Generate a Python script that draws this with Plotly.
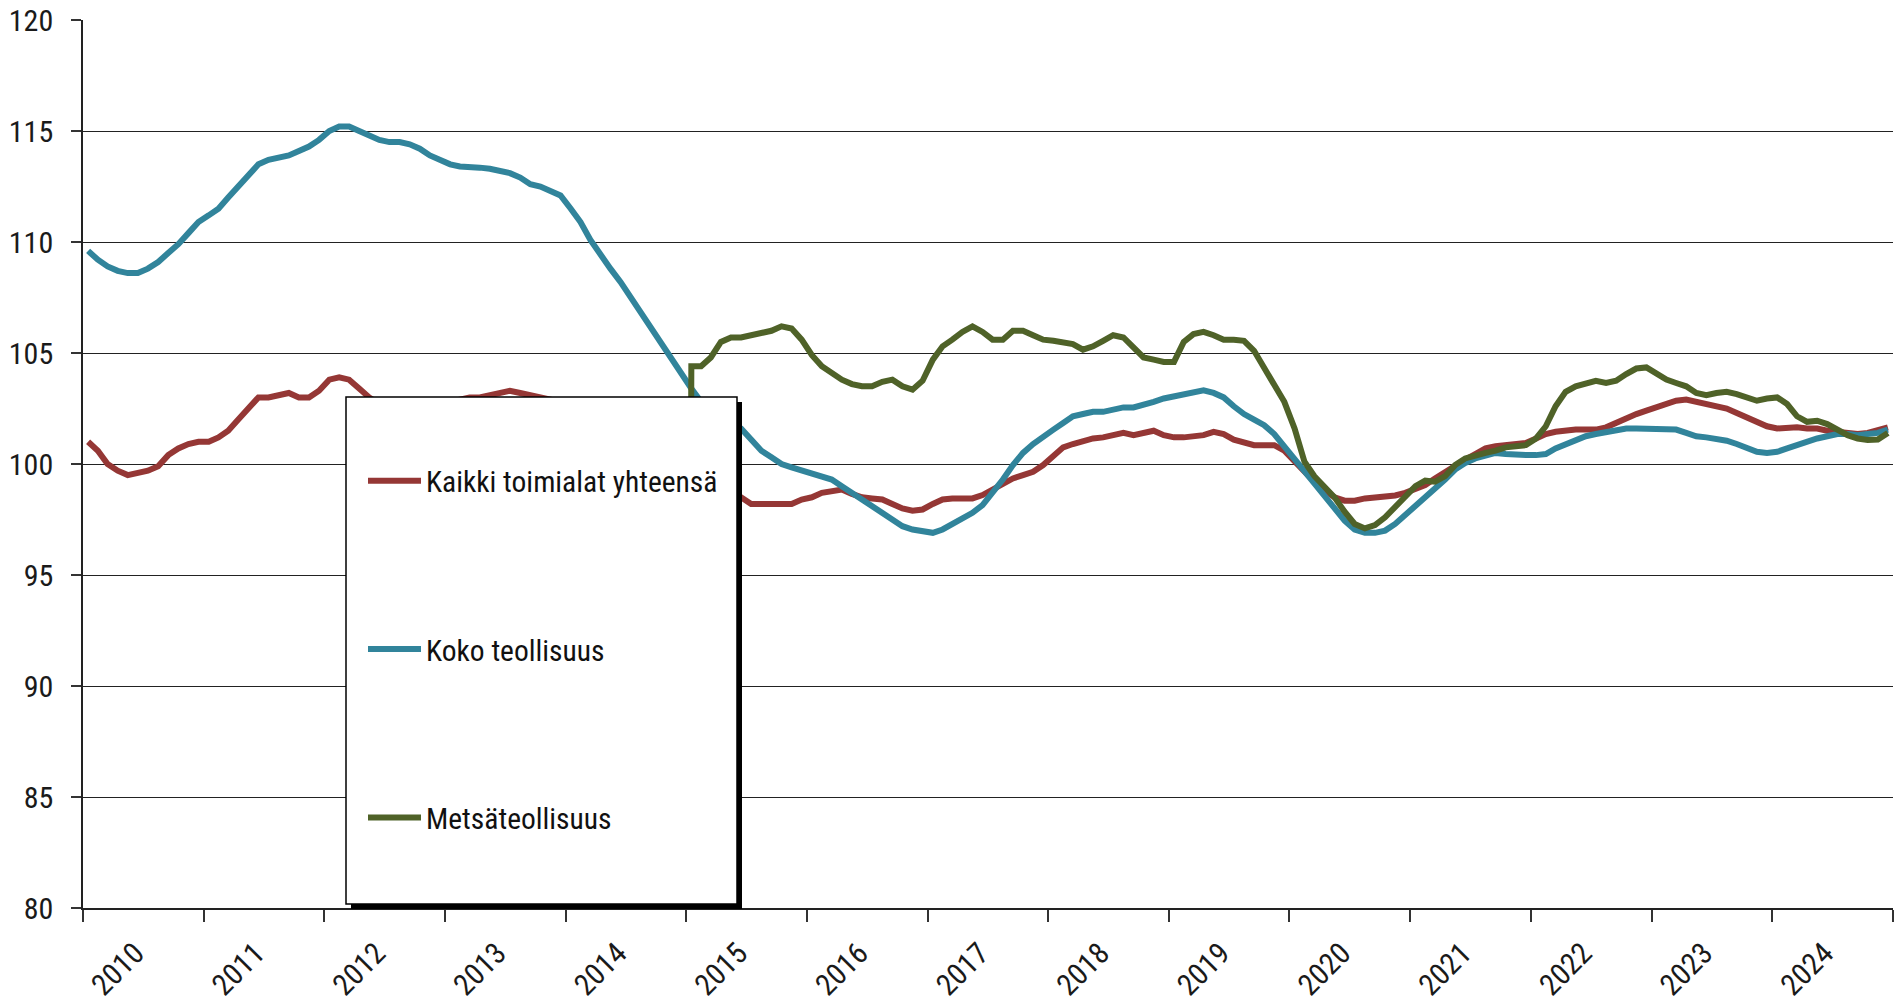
import plotly.graph_objects as go

# ---- data (monthly, Jan 2010 .. Dec 2024) ----
months = [f"{y}-{m:02d}" for y in range(2010, 2025) for m in range(1, 13)]

kaikki = [
    # 2010
    101.0, 100.6, 100.0, 99.7, 99.5, 99.6, 99.7, 99.9, 100.4, 100.7, 100.9, 101.0,
    # 2011
    101.0, 101.2, 101.5, 102.0, 102.5, 103.0, 103.0, 103.1, 103.2, 103.0, 103.0, 103.3,
    # 2012
    103.8, 103.9, 103.8, 103.4, 103.0, 102.7, 102.5, 102.4, 102.4, 102.5, 102.6, 102.7,
    # 2013
    102.8, 102.9, 103.0, 103.0, 103.1, 103.2, 103.3, 103.2, 103.1, 103.0, 102.9, 102.8,
    # 2014
    102.6, 102.4, 102.2, 102.0, 101.7, 101.4, 101.1, 100.8, 100.5, 100.2, 99.9, 99.6,
    # 2015
    99.4, 99.2, 99.0, 98.8, 98.6, 98.5, 98.2, 98.2, 98.2, 98.2, 98.2, 98.4,
    # 2016
    98.5, 98.7, 98.75, 98.85, 98.65, 98.5, 98.45, 98.4, 98.2, 98.0, 97.9, 97.95,
    # 2017
    98.2, 98.4, 98.45, 98.45, 98.45, 98.6, 98.85, 99.15, 99.35, 99.5, 99.65, 99.95,
    # 2018
    100.35, 100.75, 100.9, 101.05, 101.15, 101.2, 101.3, 101.4, 101.3, 101.4, 101.5, 101.3,
    # 2019
    101.2, 101.2, 101.25, 101.3, 101.45, 101.35, 101.1, 100.95, 100.85, 100.85, 100.85, 100.6,
    # 2020
    100.1, 99.7, 99.2, 98.8, 98.5, 98.35, 98.35, 98.45, 98.5, 98.55, 98.58, 98.7,
    # 2021
    98.85, 99.05, 99.35, 99.65, 99.9, 100.2, 100.45, 100.7, 100.8, 100.85, 100.9, 100.95,
    # 2022
    101.15, 101.35, 101.45, 101.53, 101.55, 101.55, 101.55, 101.65, 101.85, 102.1, 102.25, 102.4,
    # 2023
    102.55, 102.7, 102.85, 102.9, 102.8, 102.7, 102.6, 102.5, 102.3, 102.1, 101.9, 101.7,
    # 2024
    101.6, 101.65, 101.65, 101.6, 101.6, 101.5, 101.45, 101.4, 101.35, 101.4, 101.5, 101.65,
]

koko = [
    # 2010
    109.6, 109.2, 108.9, 108.7, 108.6, 108.6, 108.8, 109.1, 109.5, 109.9, 110.4, 110.9,
    # 2011
    111.2, 111.5, 112.0, 112.5, 113.0, 113.5, 113.7, 113.8, 113.9, 114.1, 114.3, 114.6,
    # 2012
    115.0, 115.2, 115.2, 115.0, 114.8, 114.6, 114.5, 114.5, 114.4, 114.2, 113.9, 113.7,
    # 2013
    113.5, 113.4, 113.4, 113.35, 113.3, 113.2, 113.1, 112.9, 112.6, 112.5, 112.3, 112.1,
    # 2014
    111.5, 110.9, 110.1, 109.4, 108.8, 108.2, 107.5, 106.8, 106.1, 105.4, 104.8, 104.0,
    # 2015
    103.4, 102.8, 102.5, 102.2, 101.9, 101.6, 101.1, 100.6, 100.3, 100.0, 99.85, 99.7,
    # 2016
    99.55, 99.4, 99.3, 99.0, 98.7, 98.4, 98.1, 97.8, 97.45, 97.2, 97.05, 96.95,
    # 2017
    96.9, 97.05, 97.3, 97.55, 97.8, 98.15, 98.7, 99.3, 99.95, 100.5, 100.9, 101.25,
    # 2018
    101.55, 101.85, 102.15, 102.25, 102.35, 102.35, 102.45, 102.55, 102.55, 102.65, 102.8, 102.95,
    # 2019
    103.05, 103.15, 103.25, 103.32, 103.2, 103.0, 102.6, 102.25, 102.0, 101.75, 101.35, 100.8,
    # 2020
    100.25, 99.65, 99.1, 98.55, 98.0, 97.45, 97.05, 96.9, 96.9, 97.0, 97.3, 97.7,
    # 2021
    98.05, 98.45, 98.85, 99.3, 99.75, 100.05, 100.25, 100.4, 100.5, 100.45, 100.4, 100.4,
    # 2022
    100.4, 100.45, 100.7, 100.9, 101.1, 101.25, 101.35, 101.45, 101.55, 101.6, 101.6, 101.6,
    # 2023
    101.6, 101.6, 101.55, 101.4, 101.25, 101.2, 101.15, 101.05, 100.9, 100.75, 100.55, 100.5,
    # 2024
    100.55, 100.7, 100.85, 101.05, 101.15, 101.25, 101.35, 101.35, 101.3, 101.35, 101.4, 101.55,
]

# Metsäteollisuus: no values before 2015 (the last empty month is recorded as 0)
metsa = [None] * 59 + [0.0] + [
    # 2015
    104.4, 104.4, 104.8, 105.5, 105.7, 105.7, 105.8, 105.9, 106.0, 106.2, 106.1, 105.6,
    # 2016
    104.9, 104.4, 104.1, 103.8, 103.6, 103.5, 103.5, 103.7, 103.8, 103.5, 103.35, 103.75,
    # 2017
    104.7, 105.3, 105.6, 105.95, 106.2, 105.95, 105.6, 105.6, 106.0, 106.0, 105.8, 105.6,
    # 2018
    105.55, 105.5, 105.4, 105.15, 105.3, 105.55, 105.8, 105.7, 105.2, 104.8, 104.7, 104.6,
    # 2019
    104.6, 105.5, 105.85, 105.95, 105.8, 105.6, 105.6, 105.55, 105.1, 104.35, 103.6, 102.8,
    # 2020
    101.6, 100.1, 99.45, 99.0, 98.5, 97.85, 97.3, 97.1, 97.25, 97.6, 98.05, 98.55,
    # 2021
    99.0, 99.25, 99.2, 99.45, 99.95, 100.25, 100.4, 100.5, 100.6, 100.75, 100.8, 100.85,
    # 2022
    101.15, 101.7, 102.6, 103.25, 103.5, 103.65, 103.75, 103.65, 103.75, 104.05, 104.3, 104.35,
    # 2023
    104.1, 103.8, 103.65, 103.5, 103.2, 103.1, 103.2, 103.25, 103.15, 103.0, 102.85, 102.95,
    # 2024
    103.0, 102.7, 102.15, 101.9, 101.95, 101.8, 101.55, 101.3, 101.15, 101.08, 101.1, 101.4,
]

series_names = ["Kaikki toimialat yhteensä", "Koko teollisuus", "Metsäteollisuus"]
series_values = [kaikki, koko, metsa]
series_colors = ["#953735", "#31849B", "#4F6228"]

y_ticks = [80, 85, 90, 95, 100, 105, 110, 115, 120]

# ---- layout constants (pixels) ----
W, H = 1903, 1007
OFF = 8                      # page body margin: figure drawn 8px right/down on screen
# desired plot area on screen: left 83, right 1893, top 20, bottom 908
ML, MT = 83 - OFF, 20 - OFF
MR = W - (1893 - OFF)
MB = H - (908 - OFF)
PW, PH = W - ML - MR, H - MT - MB
FONT = "Roboto Condensed, Liberation Sans Narrow, Arial Narrow, sans-serif"


def px_x(p):  # screen px -> paper
    return (p - OFF - ML) / PW


def px_y(p):
    return (H - MB - (p - OFF)) / PH


fig = go.Figure()
for name, vals, col in zip(series_names, series_values, series_colors):
    fig.add_trace(go.Scatter(
        x=months, y=vals, name=name, mode="lines",
        xperiod="M1", xperiodalignment="middle",
        line=dict(color=col, width=6), legendgroup=name,
        connectgaps=False,
    ))

# legend frame with drop shadow
box = dict(x0=346, x1=737, y0=397, y1=904)
shadow_off = 5
fig.add_shape(type="rect", xref="paper", yref="paper", layer="above",
              x0=px_x(box["x0"] + shadow_off), x1=px_x(box["x1"] + shadow_off),
              y0=px_y(box["y1"] + shadow_off), y1=px_y(box["y0"] + shadow_off),
              fillcolor="black", line=dict(width=0))
fig.add_shape(type="rect", xref="paper", yref="paper", layer="above",
              x0=px_x(box["x0"]), x1=px_x(box["x1"]),
              y0=px_y(box["y1"]), y1=px_y(box["y0"]),
              fillcolor="white", line=dict(color="black", width=1.5))

fig.update_layout(
    template="none",
    width=W, height=H,
    margin=dict(l=ML, r=MR, t=MT, b=MB, autoexpand=False),
    paper_bgcolor="white", plot_bgcolor="white",
    font=dict(family=FONT, size=30, color="#1a1a1a"),
    showlegend=True,
    legend=dict(
        x=px_x(363), y=px_y(455), xanchor="left", yanchor="top",
        bgcolor="rgba(0,0,0,0)", borderwidth=0,
        font=dict(family=FONT, size=29.5, color="#111111"),
        itemwidth=53, tracegroupgap=127, traceorder="grouped",
    ),
    xaxis=dict(
        type="date", automargin=False,
        range=["2010-01-01", "2025-01-01"],
        dtick="M12", tick0="2010-01-01",
        ticklabelmode="period", tickformat="%Y", tickangle=-45,
        ticklabelshift=-8, ticklabelstandoff=2,
        ticklabeloverflow="allow",
        ticks="outside", ticklen=12, tickwidth=1.5, tickcolor="#333333",
        showline=True, linecolor="#222222", linewidth=1.5,
        showgrid=False, zeroline=False,
        tickfont=dict(family=FONT, size=30, color="#1a1a1a"),
    ),
    yaxis=dict(
        automargin=False,
        range=[80, 120], tickvals=y_ticks,
        ticklabeloverflow="allow",
        ticks="outside", ticklen=10, tickwidth=1.5, tickcolor="#333333",
        showline=True, linecolor="#222222", linewidth=1.5,
        showgrid=True, gridcolor="#222222", gridwidth=1,
        zeroline=False,
        ticklabelstandoff=12,
        tickfont=dict(family=FONT, size=30, color="#1a1a1a"),
    ),
)

fig.write_html("out.html")
